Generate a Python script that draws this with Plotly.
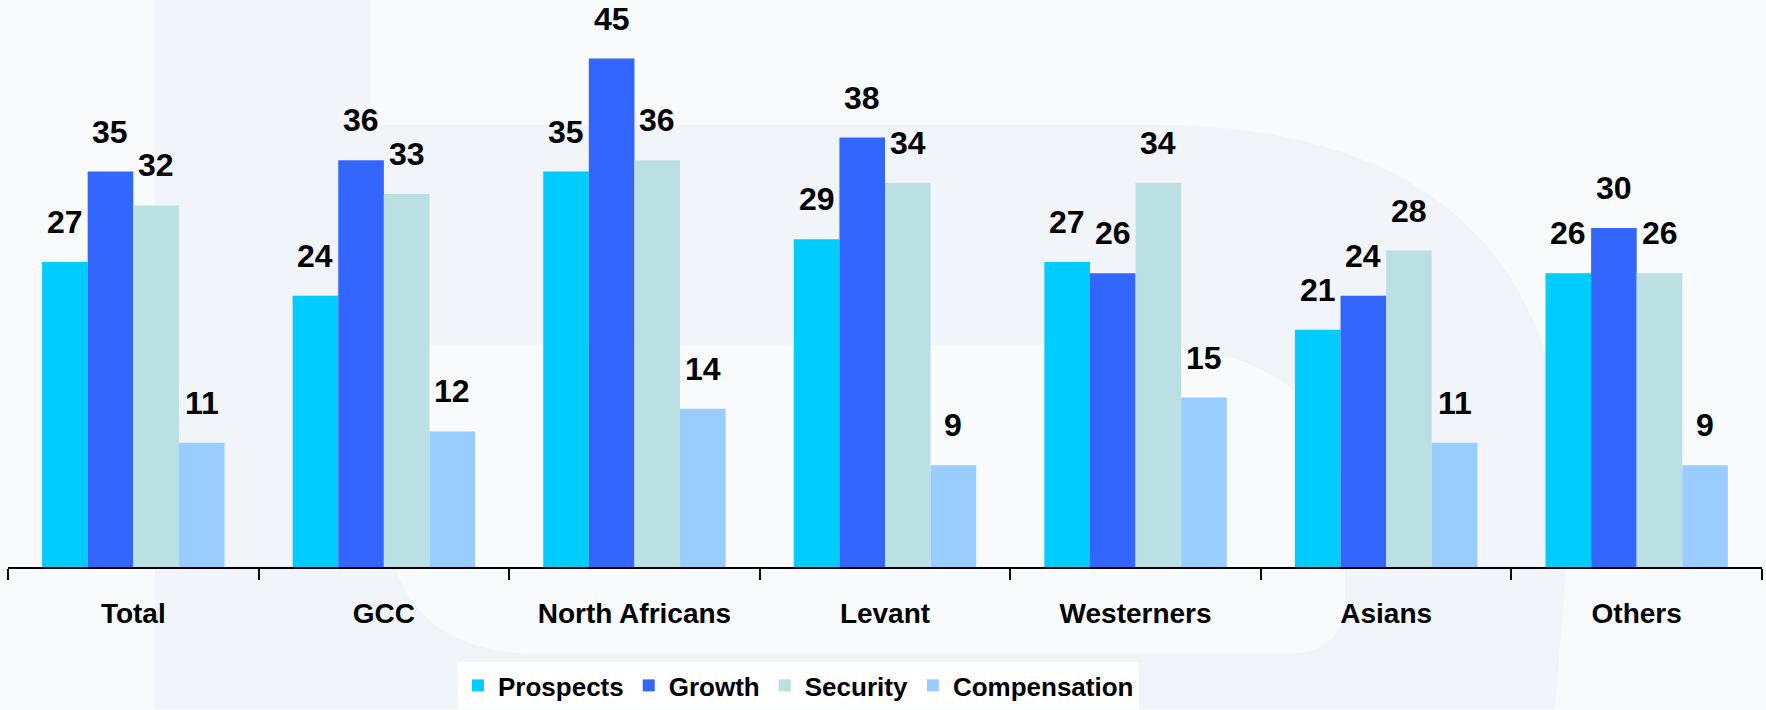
import plotly.graph_objects as go

# Survey results by nationality group (%)
categories = ["Total", "GCC", "North Africans", "Levant", "Westerners", "Asians", "Others"]
series_names = ["Prospects", "Growth", "Security", "Compensation"]
prospects = [27, 24, 35, 29, 27, 21, 26]
growth = [35, 36, 45, 38, 26, 24, 30]
security = [32, 33, 36, 34, 34, 28, 26]
compensation = [11, 12, 14, 9, 15, 11, 9]
series_values = [prospects, growth, security, compensation]
colors = ["#00CCFF", "#3366FF", "#BAE0E3", "#99CCFF"]

W, H = 1766, 710
M_L, M_R, M_T, M_B = 8, 4, 2, 142
BARGAP = 0.272
FONT = "Liberation Sans, Arial, sans-serif"
PAPER = "#F8FAFC"
MARK = "#F1F4F9"

fig = go.Figure()
for name, vals, col in zip(series_names, series_values, colors):
    fig.add_trace(go.Bar(name=name, x=categories, y=vals, marker=dict(color=col, line=dict(width=0))))

# value labels above each bar
n = len(series_names)
bar_w = (1 - BARGAP) / n
for j, vals in enumerate(series_values):
    off = (-(n - 1) / 2 + j) * bar_w
    for i, v in enumerate(vals):
        fig.add_annotation(x=i + off, y=v, xref="x", yref="y", text=str(v), showarrow=False,
                           yanchor="bottom", yshift=20,
                           font=dict(family=FONT, size=32, color="black", weight="bold"))

# faint background logo, given in page pixels
pw, ph = W - M_L - M_R, H - M_T - M_B
def px(x):
    return (x - M_L) / pw
def py(y):
    return (H - M_B - y) / ph
def path(pts):
    out = []
    for cmd, coords in pts:
        s = " ".join(f"{px(coords[k]):.5f},{py(coords[k+1]):.5f}" for k in range(0, len(coords), 2))
        out.append(f"{cmd} {s}")
    return " ".join(out) + " Z"

stem = path([("M", (155, 0)), ("L", (370, 0)), ("L", (370, 710)), ("L", (155, 710))])
bowl = path([("M", (370, 125)), ("L", (1150, 125)), ("Q", (1570, 125, 1570, 520)),
             ("L", (1555, 710)), ("L", (370, 710))])
hole = path([("M", (385, 345)), ("L", (1130, 345)), ("Q", (1345, 345, 1345, 520)),
             ("L", (1345, 600)), ("Q", (1345, 655, 1285, 655)), ("L", (540, 655)),
             ("Q", (385, 655, 385, 500))])
for p, c in [(stem, MARK), (bowl, MARK), (hole, PAPER)]:
    fig.add_shape(type="path", path=p, xref="paper", yref="paper", fillcolor=c,
                  line=dict(width=0), layer="below")

fig.update_layout(
    width=W, height=H,
    margin=dict(l=M_L, r=M_R, t=M_T, b=M_B),
    paper_bgcolor=PAPER, plot_bgcolor="rgba(0,0,0,0)",
    barmode="group", bargap=BARGAP, bargroupgap=0,
    showlegend=True,
    legend=dict(orientation="h", x=px(458), xanchor="left", y=py(709), yanchor="bottom",
                bgcolor="white", borderwidth=0,
                font=dict(family=FONT, size=26, color="black", weight="bold"),
                itemwidth=30, tracegroupgap=0),
    xaxis=dict(showline=True, linecolor="black", linewidth=2, ticks="outside",
               tickson="boundaries", ticklen=11, tickwidth=1.5, tickcolor="black",
               showgrid=False, ticklabelstandoff=20,
               tickfont=dict(family=FONT, size=28, color="black", weight="bold")),
    yaxis=dict(range=[0, 50], visible=False, showgrid=False, zeroline=False),
)

fig.write_html("out.html")
